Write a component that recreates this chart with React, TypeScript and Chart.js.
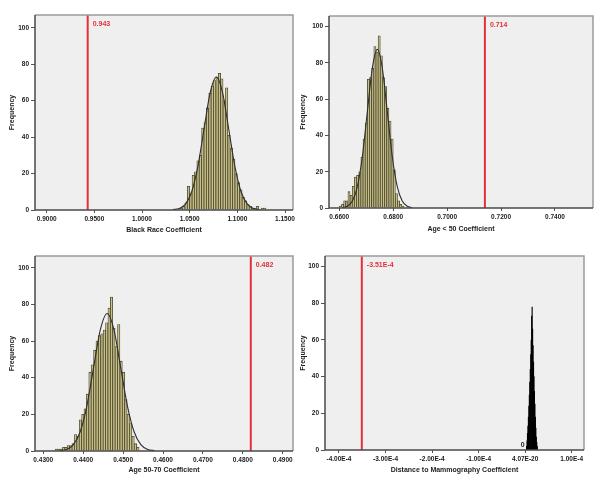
import React, { useEffect, useRef } from "react";
import { Chart, registerables } from "chart.js";

Chart.register(...registerables);

const FONT_FAMILY = "'Liberation Sans', Arial, Helvetica, sans-serif";
const RED = "#e3303a";
const TEXT = "#1c1c1c";

// ---------- shared y axis ----------
const yTicks = [0, 20, 40, 60, 80, 100];
const yTickLabels = ["0", "20", "40", "60", "80", "100"];
const yTitle = "Frequency";

// ---------- panel 1: Black Race ----------
const p1XTitle = "Black Race Coefficient";
const p1XTicks = [0.9, 0.95, 1.0, 1.05, 1.1, 1.15];
const p1XTickLabels = ["0.9000", "0.9500", "1.0000", "1.0500", "1.1000", "1.1500"];
const p1BinStart = 1.04125;
const p1BinWidth = 0.0025;
const p1Counts = [1, 2, 4, 13, 9, 19, 21, 27, 30, 45, 48, 56, 64, 68, 71, 73, 75, 72, 60, 67, 41, 34, 28, 20, 15, 11, 7, 5, 3, 2, 1, 1, 2, 0, 1, 1];
const p1CurveX = [1.0325, 1.039, 1.0455, 1.052, 1.0585, 1.065, 1.0715, 1.078, 1.0845, 1.091, 1.0975, 1.104, 1.1105, 1.117, 1.1235];
const p1CurveY = [0.2, 0.8, 3.2, 9.9, 23.7, 44.3, 64.4, 73, 64.4, 44.3, 23.7, 9.9, 3.2, 0.8, 0.2];
const p1Observed = 0.943;
const p1ObservedLabel = "0.943";

// ---------- panel 2: Age < 50 ----------
const p2XTitle = "Age < 50 Coefficient";
const p2XTicks = [0.66, 0.68, 0.7, 0.72, 0.74];
const p2XTickLabels = ["0.6600", "0.6800", "0.7000", "0.7200", "0.7400"];
const p2BinStart = 0.6604;
const p2BinWidth = 0.0008;
const p2Counts = [1, 2, 4, 4, 9, 7, 12, 17, 18, 20, 28, 38, 47, 71, 72, 77, 89, 86, 95, 84, 72, 67, 55, 48, 38, 21, 8, 4, 2, 1];
const p2CurveX = [0.66115, 0.663, 0.66485, 0.6667, 0.66855, 0.6704, 0.67225, 0.6741, 0.67595, 0.6778, 0.67965, 0.6815, 0.68335, 0.6852, 0.68705];
const p2CurveY = [0.2, 1.0, 3.8, 11.8, 28.4, 53.1, 77.2, 87.5, 77.2, 53.1, 28.4, 11.8, 3.8, 1.0, 0.2];
const p2Observed = 0.714;
const p2ObservedLabel = "0.714";

// ---------- panel 3: Age 50-70 ----------
const p3XTitle = "Age 50-70 Coefficient";
const p3XTicks = [0.43, 0.44, 0.45, 0.46, 0.47, 0.48, 0.49];
const p3XTickLabels = ["0.4300", "0.4400", "0.4500", "0.4600", "0.4700", "0.4800", "0.4900"];
const p3BinStart = 0.4333;
const p3BinWidth = 0.0006;
const p3Counts = [1, 1, 1, 2, 2, 3, 3, 4, 9, 8, 17, 20, 23, 31, 43, 47, 55, 60, 63, 64, 66, 70, 78, 84, 67, 57, 69, 49, 43, 28, 20, 15, 8, 4, 2];
const p3CurveX = [0.4341, 0.4358, 0.4375, 0.4392, 0.4409, 0.4426, 0.4443, 0.446, 0.4477, 0.4494, 0.4511, 0.4528, 0.4545, 0.4562, 0.4579];
const p3CurveY = [0.2, 0.8, 3.3, 10.2, 24.4, 45.5, 66.2, 75, 66.2, 45.5, 24.4, 10.2, 3.3, 0.8, 0.2];
const p3Observed = 0.482;
const p3ObservedLabel = "0.482";

// ---------- panel 4: Distance to Mammography ----------
const p4XTitle = "Distance to Mammography Coefficient";
const p4XTicks = [-4e-4, -3e-4, -2e-4, -1e-4, 0, 1e-4];
const p4XTickLabels = ["-4.00E-4", "-3.00E-4", "-2.00E-4", "-1.00E-4", "4.07E-20", "1.00E-4"];
const p4BinStart = 3e-6;
const p4BinWidth = 1e-6;
const p4Counts = [2, 5, 9, 13, 18, 24, 30, 37, 44, 52, 60, 73, 78, 66, 57, 48, 40, 32, 25, 18, 12, 7, 4, 2];
const p4CurveX: number[] = [];
const p4CurveY: number[] = [];
const p4Observed = -3.51e-4;
const p4ObservedLabel = "-3.51E-4";
const p4NoteX = -5.3e-6;
const p4NoteY = 2.7;
const p4NoteText = "0";

type PanelSpec = {
  key: string;
  left: number;
  top: number;
  w: number;
  h: number;
  plot: { l: number; r: number; t: number; b: number };
  xMin: number;
  xMax: number;
  yMax: number;
  xTicks: number[];
  xTickLabels: string[];
  binStart: number;
  binWidth: number;
  counts: number[];
  curveX: number[];
  curveY: number[];
  barFill: string;
  barEdge: string;
  barEdgeWidth: number;
  refValue: number;
  refLabel: string;
  xTitle: string;
  yTitleX: number;
  xTitleY: number;
  note?: { x: number; y: number; text: string };
};

const BAR_FILL = "#c9c087";
const BAR_EDGE = "#47452b";

const panels: PanelSpec[] = [
  {
    key: "p1", left: 0, top: 0, w: 300, h: 240,
    plot: { l: 35, r: 293, t: 15, b: 210 },
    xMin: 0.88773, xMax: 1.15839, yMax: 107,
    xTicks: p1XTicks, xTickLabels: p1XTickLabels,
    binStart: p1BinStart, binWidth: p1BinWidth, counts: p1Counts,
    curveX: p1CurveX, curveY: p1CurveY,
    barFill: BAR_FILL, barEdge: BAR_EDGE, barEdgeWidth: 0.8,
    refValue: p1Observed, refLabel: p1ObservedLabel,
    xTitle: p1XTitle, yTitleX: 12, xTitleY: 230,
  },
  {
    key: "p2", left: 300, top: 0, w: 300, h: 240,
    plot: { l: 29, r: 293, t: 16, b: 208 },
    xMin: 0.65618, xMax: 0.7541, yMax: 105.9,
    xTicks: p2XTicks, xTickLabels: p2XTickLabels,
    binStart: p2BinStart, binWidth: p2BinWidth, counts: p2Counts,
    curveX: p2CurveX, curveY: p2CurveY,
    barFill: BAR_FILL, barEdge: BAR_EDGE, barEdgeWidth: 0.8,
    refValue: p2Observed, refLabel: p2ObservedLabel,
    xTitle: p2XTitle, yTitleX: 3.5, xTitleY: 229,
  },
  {
    key: "p3", left: 0, top: 240, w: 300, h: 242,
    plot: { l: 35, r: 293, t: 16, b: 211 },
    xMin: 0.42792, xMax: 0.49258, yMax: 106.4,
    xTicks: p3XTicks, xTickLabels: p3XTickLabels,
    binStart: p3BinStart, binWidth: p3BinWidth, counts: p3Counts,
    curveX: p3CurveX, curveY: p3CurveY,
    barFill: BAR_FILL, barEdge: BAR_EDGE, barEdgeWidth: 0.8,
    refValue: p3Observed, refLabel: p3ObservedLabel,
    xTitle: p3XTitle, yTitleX: 12, xTitleY: 230,
  },
  {
    key: "p4", left: 300, top: 240, w: 300, h: 242,
    plot: { l: 25, r: 284, t: 16, b: 210 },
    xMin: -4.3008e-4, xMax: 1.2643e-4, yMax: 105.8,
    xTicks: p4XTicks, xTickLabels: p4XTickLabels,
    binStart: p4BinStart, binWidth: p4BinWidth, counts: p4Counts,
    curveX: p4CurveX, curveY: p4CurveY,
    barFill: "#000000", barEdge: "#000000", barEdgeWidth: 0,
    refValue: p4Observed, refLabel: p4ObservedLabel,
    xTitle: p4XTitle, yTitleX: 3, xTitleY: 230,
    note: { x: p4NoteX, y: p4NoteY, text: p4NoteText },
  },
];

const decorPlugin = {
  id: "decor",
  beforeDraw(chart: any) {
    const { ctx, chartArea: a } = chart;
    ctx.save();
    ctx.fillStyle = "#efefef";
    ctx.fillRect(a.left, a.top, a.right - a.left, a.bottom - a.top);
    ctx.restore();
  },
  afterDatasetsDraw(chart: any, _args: any, opts: any) {
    const { ctx, chartArea: a, scales } = chart;
    ctx.save();
    // top / right frame (lighter)
    ctx.strokeStyle = "#9a9a9a";
    ctx.lineWidth = 1.5;
    ctx.beginPath();
    ctx.moveTo(a.left, a.top);
    ctx.lineTo(a.right, a.top);
    ctx.lineTo(a.right, a.bottom);
    ctx.stroke();
    // left / bottom axis lines (darker)
    ctx.strokeStyle = "#4a4a4a";
    ctx.beginPath();
    ctx.moveTo(a.left, a.top);
    ctx.lineTo(a.left, a.bottom);
    ctx.lineTo(a.right, a.bottom);
    ctx.stroke();
    const rx = scales.x.getPixelForValue(opts.refValue);
    ctx.fillStyle = RED;
    ctx.font = `bold 7px ${FONT_FAMILY}`;
    ctx.textBaseline = "middle";
    ctx.textAlign = "left";
    ctx.fillText(opts.refLabel, rx + 5, a.top + 9.5);
    if (opts.note) {
      ctx.fillStyle = TEXT;
      ctx.textAlign = "center";
      ctx.fillText(
        opts.note.text,
        scales.x.getPixelForValue(opts.note.x),
        scales.y.getPixelForValue(opts.note.y)
      );
    }
    ctx.restore();
  },
};

function Panel({ p }: { p: PanelSpec }) {
  const ref = useRef<HTMLCanvasElement>(null);
  useEffect(() => {
    if (!ref.current) return;
    const bars = p.counts.map((c, i) => ({ x: p.binStart + i * p.binWidth, y: c }));
    const curve = p.curveX.map((x, i) => ({ x, y: p.curveY[i] }));
    const datasets: any[] = [
      {
        type: "bar",
        data: bars,
        backgroundColor: p.barFill,
        borderColor: p.barEdge,
        borderWidth: p.barEdgeWidth,
        barPercentage: 1,
        categoryPercentage: 1,
        order: 3,
      },
    ];
    if (curve.length) {
      datasets.push({
        type: "line",
        data: curve,
        borderColor: "#2e2e2e",
        borderWidth: 1.1,
        pointRadius: 0,
        cubicInterpolationMode: "monotone",
        fill: false,
        order: 2,
      });
    }
    datasets.push({
      type: "line",
      data: [
        { x: p.refValue, y: 0 },
        { x: p.refValue, y: p.yMax },
      ],
      borderColor: RED,
      borderWidth: 2,
      pointRadius: 0,
      fill: false,
      order: 1,
    });

    const tickFont = { family: FONT_FAMILY, size: 6.5, weight: "bold" as const };
    const titleFont = { family: FONT_FAMILY, size: 7, weight: "bold" as const, lineHeight: 1 };

    const chart = new Chart(ref.current, {
      type: "bar",
      data: { datasets },
      plugins: [decorPlugin],
      options: {
        animation: false,
        responsive: false,
        maintainAspectRatio: false,
        layout: {
          padding: { top: p.plot.t, right: p.w - p.plot.r, left: 0, bottom: 0 },
        },
        plugins: {
          legend: { display: false },
          tooltip: { enabled: false },
          decor: { refValue: p.refValue, refLabel: p.refLabel, note: p.note },
        } as any,
        scales: {
          x: {
            type: "linear",
            min: p.xMin,
            max: p.xMax,
            offset: false,
            border: { display: false },
            grid: {
              offset: false,
              drawOnChartArea: false,
              drawTicks: true,
              tickLength: 3,
              tickColor: "#555",
              lineWidth: 1,
            },
            afterBuildTicks: (s: any) => {
              s.ticks = p.xTicks.map((v) => ({ value: v }));
            },
            afterFit: (s: any) => {
              s.height = p.h - p.plot.b;
            },
            ticks: {
              autoSkip: false,
              maxRotation: 0,
              minRotation: 0,
              padding: 2,
              color: TEXT,
              font: tickFont,
              callback: (_v: any, i: number) => p.xTickLabels[i],
            },
            title: {
              display: true,
              text: p.xTitle,
              color: TEXT,
              font: titleFont,
              padding: { top: 0, bottom: p.h - p.xTitleY - 3.5 },
            },
          },
          y: {
            type: "linear",
            min: 0,
            max: p.yMax,
            border: { display: false },
            grid: {
              drawOnChartArea: false,
              drawTicks: true,
              tickLength: 4,
              tickColor: "#555",
              lineWidth: 1,
            },
            afterBuildTicks: (s: any) => {
              s.ticks = yTicks.map((v) => ({ value: v }));
            },
            afterFit: (s: any) => {
              s.width = p.plot.l;
            },
            ticks: {
              padding: 2,
              color: TEXT,
              font: tickFont,
              callback: (_v: any, i: number) => yTickLabels[i],
            },
            title: {
              display: true,
              text: yTitle,
              color: TEXT,
              font: titleFont,
              padding: { top: Math.max(0, p.yTitleX - 3.5), bottom: 0 },
            },
          },
        },
      } as any,
    });
    return () => chart.destroy();
  }, [p]);

  return (
    <div style={{ position: "absolute", left: p.left, top: p.top, width: p.w, height: p.h }}>
      <canvas ref={ref} width={p.w} height={p.h} style={{ width: p.w, height: p.h, display: "block" }} />
    </div>
  );
}

export default function App() {
  return (
    <div
      style={{
        position: "absolute",
        left: 0,
        top: 0,
        width: 600,
        height: 482,
        background: "#ffffff",
        overflow: "hidden",
      }}
    >
      {panels.map((p) => (
        <Panel key={p.key} p={p} />
      ))}
    </div>
  );
}
